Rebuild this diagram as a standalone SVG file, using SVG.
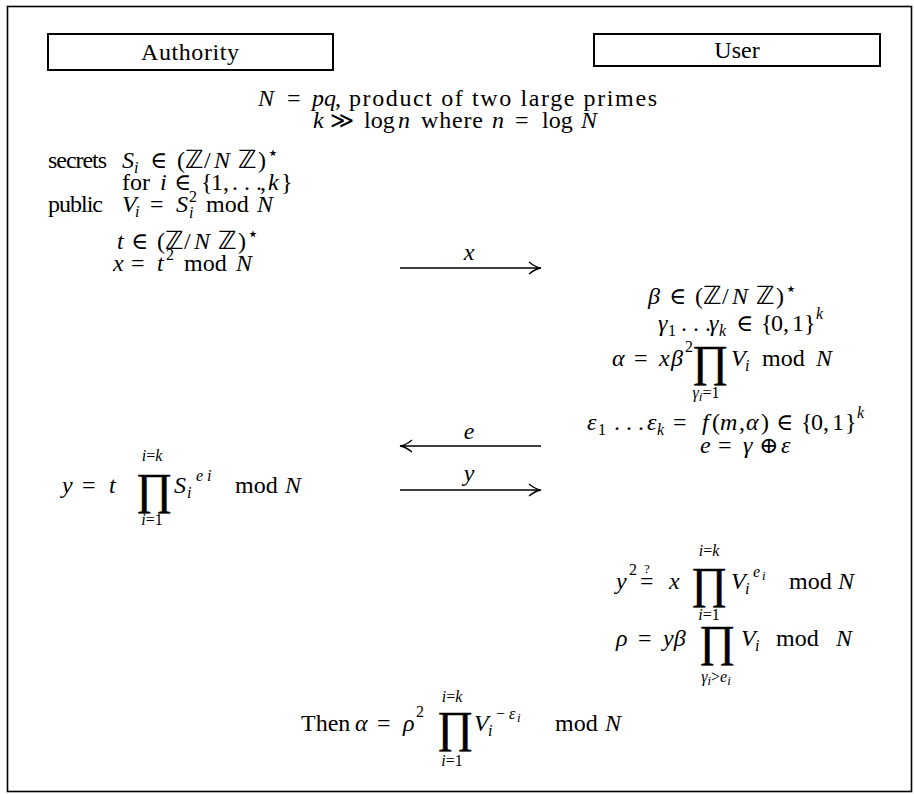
<svg xmlns="http://www.w3.org/2000/svg" width="914" height="794" viewBox="0 0 914 794">
<style>
text{font-family:"Liberation Serif",serif;font-size:24px;fill:#000}
.m{font-family:"DejaVu Serif","DejaVu Sans",serif;font-size:23px}
.z{font-family:"DejaVu Sans","DejaVu Serif",serif;font-size:25px}
.st{font-family:"DejaVu Sans",serif;font-size:19px}
.i{font-style:italic}
.s{font-size:16px}
.ss{font-size:13px}
.p{font-family:"Liberation Serif","DejaVu Serif",serif;font-size:44px;stroke:#000;stroke-width:0.6}
.box{fill:#fff;stroke:#000;stroke-width:2}
.ln{stroke:#000;stroke-width:1.3;fill:none}
</style>
<rect x="7.5" y="6.5" width="904" height="785" fill="#fff" stroke="#000" stroke-width="1.6"/>
<g id="authority"><rect class="box" x="48" y="34" width="285" height="36"/><text x="190" y="60" text-anchor="middle" textLength="98">Authority</text></g>
<g id="user"><rect class="box" x="594" y="34" width="286" height="32"/><text x="737" y="58" text-anchor="middle">User</text></g>
<g id="setup">
<text y="106"><tspan x="258" class="i">N</tspan><tspan x="287">=</tspan><tspan x="312" class="i">pq</tspan><tspan x="335">,</tspan><tspan x="349" textLength="308">product of two large primes</tspan></text>
<text y="128"><tspan x="313" class="i">k</tspan><tspan x="330" class="m">≫</tspan><tspan x="364">log</tspan><tspan x="398" class="i">n</tspan><tspan x="421" textLength="62">where</tspan><tspan x="492" class="i">n</tspan><tspan x="515">=</tspan><tspan x="542">log</tspan><tspan x="581" class="i">N</tspan></text>
</g>
<g id="authority-keys">
<text y="168"><tspan x="48" textLength="59">secrets</tspan><tspan x="122" class="i">S</tspan><tspan class="s i" x="134" y="173">i</tspan><tspan x="150" y="168" class="m">∈</tspan><tspan x="177">(</tspan><tspan x="185" class="z">ℤ</tspan><tspan x="204">/</tspan><tspan x="214" class="i">N</tspan><tspan x="238" class="z">ℤ</tspan><tspan x="258">)</tspan><tspan class="st" x="267" y="159">⋆</tspan></text>
<text y="190"><tspan x="122">for</tspan><tspan x="160" class="i">i</tspan><tspan x="174" class="m">∈</tspan><tspan x="201">{</tspan><tspan x="211">1,</tspan><tspan x="232">. . .</tspan><tspan x="260">,</tspan><tspan x="268" class="i">k</tspan><tspan x="281">}</tspan></text>
<text y="212"><tspan x="48" textLength="55">public</tspan><tspan x="122" class="i">V</tspan><tspan class="s i" x="135" y="217">i</tspan><tspan x="150" y="212">=</tspan><tspan x="176" class="i">S</tspan><tspan class="s i" x="189" y="218">i</tspan><tspan class="s" x="189" y="202">2</tspan><tspan x="206" y="212">mod</tspan><tspan x="257" class="i">N</tspan></text>
<text y="249"><tspan x="117" class="i">t</tspan><tspan x="131" class="m">∈</tspan><tspan x="157">(</tspan><tspan x="165" class="z">ℤ</tspan><tspan x="184">/</tspan><tspan x="194" class="i">N</tspan><tspan x="218" class="z">ℤ</tspan><tspan x="238">)</tspan><tspan class="st" x="247" y="240">⋆</tspan></text>
<text y="271"><tspan x="113" class="i">x</tspan><tspan x="131">=</tspan><tspan x="157" class="i">t</tspan><tspan class="s" x="166" y="260">2</tspan><tspan x="184" y="271">mod</tspan><tspan x="236" class="i">N</tspan></text>
</g>
<g id="user-commit">
<text y="304"><tspan x="648" class="i">β</tspan><tspan x="669" class="m">∈</tspan><tspan x="695">(</tspan><tspan x="703" class="z">ℤ</tspan><tspan x="722">/</tspan><tspan x="732" class="i">N</tspan><tspan x="756" class="z">ℤ</tspan><tspan x="776">)</tspan><tspan class="st" x="785" y="295">⋆</tspan></text>
<text y="331"><tspan x="658" class="i">γ</tspan><tspan class="s" x="668" y="336">1</tspan><tspan x="681" y="331">. . .</tspan><tspan x="709" class="i">γ</tspan><tspan class="s i" x="719" y="336">k</tspan><tspan x="736" y="331" class="m">∈</tspan><tspan x="761">{</tspan><tspan x="771">0,</tspan><tspan x="792">1</tspan><tspan x="804">}</tspan><tspan class="s i" x="816" y="319">k</tspan></text>
<text y="366"><tspan x="612" class="i">α</tspan><tspan x="634">=</tspan><tspan x="659" class="i">x</tspan><tspan x="671" class="i">β</tspan><tspan class="s" x="685" y="352">2</tspan><tspan class="p" x="692" y="376">∏</tspan><tspan x="731" y="366" class="i">V</tspan><tspan class="s i" x="745" y="371">i</tspan><tspan x="762" y="366">mod</tspan><tspan x="816" class="i">N</tspan></text>
<text y="398" text-anchor="middle" class="s"><tspan x="706" class="i">γ<tspan class="ss" dy="3">i</tspan><tspan dy="-3" font-style="normal">=1</tspan></tspan></text>
<text y="430"><tspan x="587" class="i">ε</tspan><tspan class="s" x="598" y="435">1</tspan><tspan x="614" y="430">. . .</tspan><tspan x="647" class="i">ε</tspan><tspan class="s i" x="657" y="435">k</tspan><tspan x="673" y="430">=</tspan><tspan x="702" class="i">f</tspan><tspan x="712">(</tspan><tspan x="720" class="i">m</tspan><tspan x="739">,</tspan><tspan x="746" class="i">α</tspan><tspan x="761">)</tspan><tspan x="776" class="m">∈</tspan><tspan x="801">{</tspan><tspan x="811">0,</tspan><tspan x="832">1</tspan><tspan x="845">}</tspan><tspan class="s i" x="857" y="418">k</tspan></text>
<text y="453"><tspan x="700" class="i">e</tspan><tspan x="718">=</tspan><tspan x="743" class="i">γ</tspan><tspan x="759" class="m">⊕</tspan><tspan x="781" class="i">ε</tspan></text>
</g>
<g id="authority-response">
<text y="493"><tspan x="62" class="i">y</tspan><tspan x="82">=</tspan><tspan x="109" class="i">t</tspan><tspan class="p" x="136" y="504">∏</tspan><tspan x="174" y="493" class="i">S</tspan><tspan class="s i" x="187" y="498">i</tspan><tspan class="s i" x="196" y="481">e i</tspan><tspan x="235" y="493">mod</tspan><tspan x="285" class="i">N</tspan></text>
<text class="s" text-anchor="middle" y="461"><tspan x="152" class="i">i<tspan font-style="normal">=</tspan>k</tspan></text>
<text class="s" text-anchor="middle" y="525"><tspan x="152" class="i">i<tspan font-style="normal">=1</tspan></tspan></text>
</g>
<g id="user-verify">
<text y="589"><tspan x="616" class="i">y</tspan><tspan class="s" x="629" y="575">2</tspan><tspan x="640" y="589">=</tspan><tspan class="ss" x="644" y="573">?</tspan><tspan x="669" y="589" class="i">x</tspan><tspan class="p" x="691" y="598">∏</tspan><tspan x="731" y="589" class="i">V</tspan><tspan class="s i" x="745" y="594">i</tspan><tspan class="s i" x="753" y="577">e</tspan><tspan class="ss i" x="762" y="580">i</tspan><tspan x="789" y="589">mod</tspan><tspan x="838" class="i">N</tspan></text>
<text class="s" text-anchor="middle" y="556"><tspan x="709" class="i">i<tspan font-style="normal">=</tspan>k</tspan></text>
<text class="s" text-anchor="middle" y="620"><tspan x="709" class="i">i<tspan font-style="normal">=1</tspan></tspan></text>
<text y="646"><tspan x="616" class="i">ρ</tspan><tspan x="638">=</tspan><tspan x="663" class="i">yβ</tspan><tspan class="p" x="699" y="656">∏</tspan><tspan x="741" y="646" class="i">V</tspan><tspan class="s i" x="755" y="651">i</tspan><tspan x="776" y="646">mod</tspan><tspan x="836" class="i">N</tspan></text>
<text class="s i" text-anchor="middle" y="682"><tspan x="716">γ<tspan class="ss" dy="3">i</tspan><tspan dy="-3" font-style="normal">&gt;</tspan>e<tspan class="ss" dy="3">i</tspan></tspan></text>
</g>
<g id="conclusion">
<text y="731"><tspan x="301">Then</tspan><tspan x="355" class="i">α</tspan><tspan x="377">=</tspan><tspan x="403" class="i">ρ</tspan><tspan class="s" x="416" y="717">2</tspan><tspan class="p" x="437" y="742">∏</tspan><tspan x="474" y="731" class="i">V</tspan><tspan class="s i" x="488" y="736">i</tspan><tspan class="s" x="496" y="719">−</tspan><tspan class="s i" x="509" y="719">ε</tspan><tspan class="ss i" x="517" y="722">i</tspan><tspan x="555" y="731">mod</tspan><tspan x="605" class="i">N</tspan></text>
<text class="s" text-anchor="middle" y="702"><tspan x="452" class="i">i<tspan font-style="normal">=</tspan>k</tspan></text>
<text class="s" text-anchor="middle" y="766"><tspan x="452" class="i">i<tspan font-style="normal">=1</tspan></tspan></text>
</g>
<g id="connectors">
<path class="ln" d="M400,268H541M529,262Q535,267 541,268Q535,269 529,274"/>
<text x="469" y="260" text-anchor="middle" class="i">x</text>
<path class="ln" d="M400,446H541M412,440Q406,445 400,446Q406,447 412,452"/>
<text x="469" y="439" text-anchor="middle" class="i">e</text>
<path class="ln" d="M400,490H541M529,484Q535,489 541,490Q535,491 529,496"/>
<text x="469" y="481" text-anchor="middle" class="i">y</text>
</g>
</svg>
